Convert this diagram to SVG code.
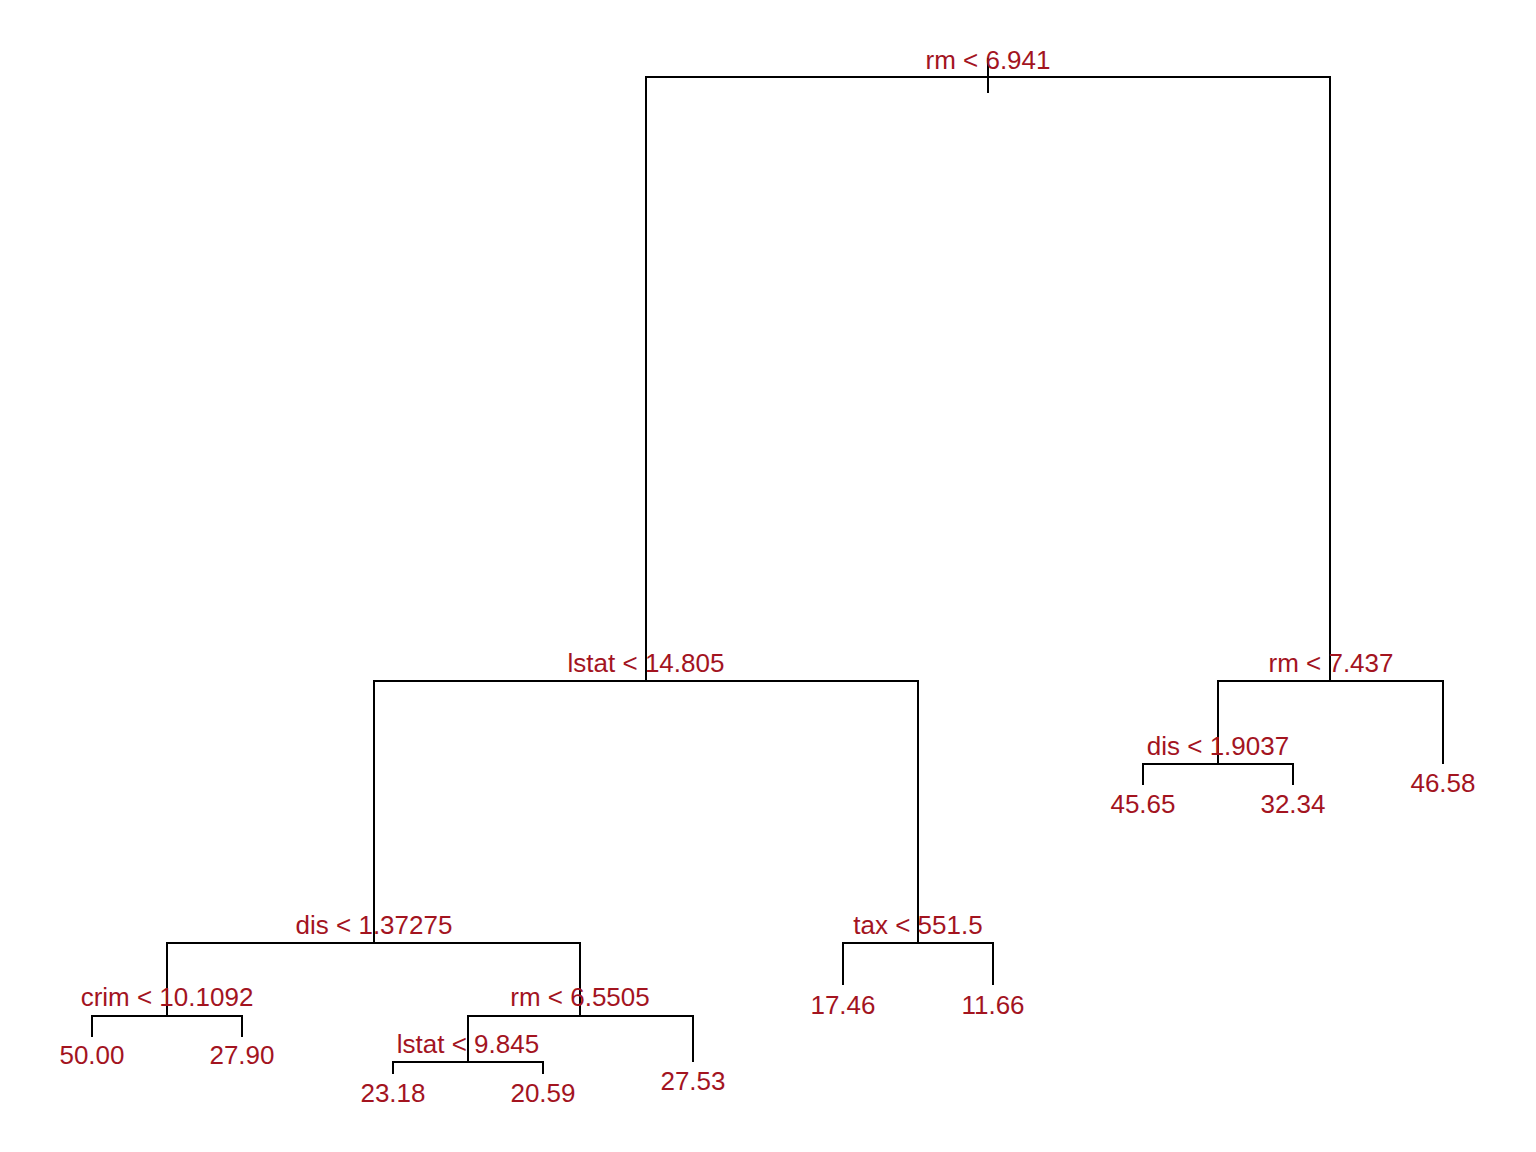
<svg xmlns="http://www.w3.org/2000/svg" width="1536" height="1152" viewBox="0 0 1536 1152">
  <style>
    .edge { fill: none; stroke: #000; stroke-width: 2; stroke-linecap: butt; }
    .lbl { font-family: "Liberation Sans", Arial, sans-serif; font-size: 26px; fill: #a3141f; text-anchor: middle; }
  </style>
  <rect width="1536" height="1152" fill="#fff"/>

  <!-- tree branches -->
  <g id="connectors">
    <!-- root stub and split -->
    <path class="edge" d="M988,58 V93"/>
    <path class="edge" d="M646,681 V77 H1330 V681"/>
    <!-- lstat < 14.805 -->
    <path class="edge" d="M374,943 V681 H918 V943"/>
    <!-- rm < 7.437 -->
    <path class="edge" d="M1218,764 V681 H1443 V764"/>
    <!-- dis < 1.9037 -->
    <path class="edge" d="M1143,785 V764 H1293 V785"/>
    <!-- dis < 1.37275 -->
    <path class="edge" d="M167,1016 V943 H580 V1016"/>
    <!-- tax < 551.5 -->
    <path class="edge" d="M843,985 V943 H993 V985"/>
    <!-- crim < 10.1092 -->
    <path class="edge" d="M92,1037 V1016 H242 V1037"/>
    <!-- rm < 6.5505 -->
    <path class="edge" d="M468,1062 V1016 H693 V1062"/>
    <!-- lstat < 9.845 -->
    <path class="edge" d="M393,1074 V1062 H543 V1074"/>
  </g>

  <!-- split nodes -->
  <g id="n-root"><text class="lbl" x="988" y="69">rm &lt; 6.941</text></g>
  <g id="n-lstat1"><text class="lbl" x="646" y="672">lstat &lt; 14.805</text></g>
  <g id="n-rm2"><text class="lbl" x="1331" y="672">rm &lt; 7.437</text></g>
  <g id="n-dis2"><text class="lbl" x="1218" y="755">dis &lt; 1.9037</text></g>
  <g id="n-dis1"><text class="lbl" x="374" y="934">dis &lt; 1.37275</text></g>
  <g id="n-tax"><text class="lbl" x="918" y="934">tax &lt; 551.5</text></g>
  <g id="n-crim"><text class="lbl" x="167" y="1006">crim &lt; 10.1092</text></g>
  <g id="n-rm3"><text class="lbl" x="580" y="1006">rm &lt; 6.5505</text></g>
  <g id="n-lstat2"><text class="lbl" x="468" y="1053">lstat &lt; 9.845</text></g>

  <!-- leaves -->
  <g id="leaf-4565"><text class="lbl" x="1143" y="813">45.65</text></g>
  <g id="leaf-3234"><text class="lbl" x="1293" y="813">32.34</text></g>
  <g id="leaf-4658"><text class="lbl" x="1443" y="792">46.58</text></g>
  <g id="leaf-1746"><text class="lbl" x="843" y="1014">17.46</text></g>
  <g id="leaf-1166"><text class="lbl" x="993" y="1014">11.66</text></g>
  <g id="leaf-5000"><text class="lbl" x="92" y="1064">50.00</text></g>
  <g id="leaf-2790"><text class="lbl" x="242" y="1064">27.90</text></g>
  <g id="leaf-2753"><text class="lbl" x="693" y="1090">27.53</text></g>
  <g id="leaf-2318"><text class="lbl" x="393" y="1102">23.18</text></g>
  <g id="leaf-2059"><text class="lbl" x="543" y="1102">20.59</text></g>
</svg>
